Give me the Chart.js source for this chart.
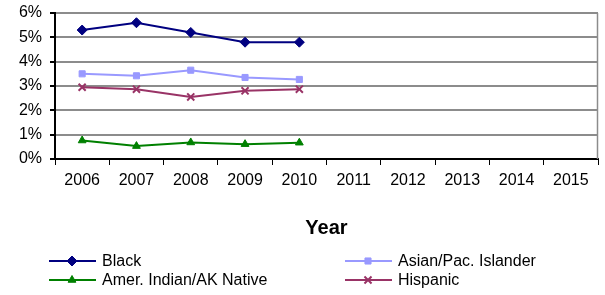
<!DOCTYPE html>
<html>
<head>
<meta charset="utf-8">
<script src="https://cdn.jsdelivr.net/npm/chart.js@4/dist/chart.umd.min.js"></script>
<style>
  html, body { margin: 0; padding: 0; background: #fff; }
  #wrap { width: 605px; height: 295px; position: relative; }
</style>
</head>
<body>
<div id="wrap"><canvas id="grafico"></canvas></div>
<script>
// datos
const years = ['2006', '2007', '2008', '2009', '2010', '2011', '2012', '2013', '2014', '2015'];
const black = [5.3, 5.6, 5.2, 4.8, 4.8, null, null, null, null, null];
const asianPac = [3.5, 3.42, 3.65, 3.35, 3.27, null, null, null, null, null];
const amerIndian = [0.76, 0.53, 0.68, 0.61, 0.67, null, null, null, null, null];
const hispanic = [2.95, 2.87, 2.55, 2.8, 2.87, null, null, null, null, null];
const yTicks = [0, 1, 2, 3, 4, 5, 6];

const FONT = 'Liberation Sans, Arial, sans-serif';

function serie(label, data, color, style, radius) {
    return {
        label: label,
        data: data,
        borderColor: color,
        backgroundColor: color,
        borderWidth: 2,
        pointStyle: style,
        pointRadius: radius,
        pointHoverRadius: radius,
        pointBorderWidth: style === 'crossRot' ? 2 : 1,
        tension: 0,
        spanGaps: false
    };
}

// leyenda en dos columnas y borde derecho, dibujados a mano
const extras = {
    id: 'extras',
    afterDraw(chart) {
        const ctx = chart.ctx;
        const area = chart.chartArea;
        ctx.save();
        // borde derecho del área
        ctx.strokeStyle = '#8c8c8c';
        ctx.lineWidth = 1.5;
        ctx.beginPath();
        ctx.moveTo(area.right - 0.5, area.top);
        ctx.lineTo(area.right - 0.5, area.bottom);
        ctx.stroke();

        const pos = [
            { x: 49, y: 261 },
            { x: 345, y: 261 },
            { x: 49, y: 280 },
            { x: 345, y: 280 }
        ];
        ctx.font = '16px ' + FONT;
        ctx.textAlign = 'left';
        ctx.textBaseline = 'middle';
        chart.data.datasets.forEach((ds, i) => {
            const p = pos[i];
            ctx.strokeStyle = ds.borderColor;
            ctx.fillStyle = ds.backgroundColor;
            ctx.lineWidth = 2;
            ctx.beginPath();
            ctx.moveTo(p.x, p.y);
            ctx.lineTo(p.x + 47, p.y);
            ctx.stroke();
            ctx.lineWidth = ds.pointBorderWidth;
            Chart.helpers.drawPoint(ctx, {
                pointStyle: ds.pointStyle,
                radius: ds.pointRadius,
                rotation: 0,
                borderWidth: ds.pointBorderWidth
            }, p.x + 23, p.y);
            ctx.fillStyle = '#000';
            ctx.fillText(ds.label, p.x + 53, p.y + 1);
        });
        ctx.restore();
    }
};

new Chart(document.getElementById('grafico').getContext('2d'), {
    type: 'line',
    data: {
        labels: years,
        datasets: [
            serie('Black', black, '#000080', 'rectRot', 5),
            serie('Asian/Pac. Islander', asianPac, '#9999FF', 'rect', 4.3),
            serie('Amer. Indian/AK Native', amerIndian, '#008000', 'triangle', 4.5),
            serie('Hispanic', hispanic, '#993366', 'crossRot', 5)
        ]
    },
    options: {
        responsive: true,
        maintainAspectRatio: false,
        animation: false,
        layout: { padding: { top: 0, right: 1, left: 0, bottom: 0 } },
        plugins: {
            legend: { display: false },
            tooltip: { enabled: false }
        },
        scales: {
            x: {
                type: 'category',
                offset: true,
                afterFit(scale) { scale.height = 136; },
                grid: {
                    offset: true,
                    drawOnChartArea: false,
                    drawTicks: true,
                    tickLength: 6,
                    tickColor: '#000',
                    color: '#000'
                },
                border: { display: true, color: '#000', width: 2 },
                ticks: {
                    color: '#000',
                    font: { family: FONT, size: 16 },
                    padding: 6,
                    maxRotation: 0,
                    autoSkip: false
                },
                title: {
                    display: true,
                    text: 'Year',
                    color: '#000',
                    font: { family: FONT, size: 20, weight: 'bold', lineHeight: 1 },
                    padding: { top: 0, bottom: 57 }
                }
            },
            y: {
                min: 0,
                max: 6,
                afterFit(scale) {
                    scale.width = 55;
                    scale.paddingTop = 13;
                },
                afterBuildTicks(scale) { scale.ticks = yTicks.map(v => ({ value: v })); },
                grid: {
                    color: '#8c8c8c',
                    lineWidth: 2,
                    tickColor: '#000',
                    tickLength: 5
                },
                border: { display: true, color: '#000', width: 2 },
                ticks: {
                    color: '#000',
                    font: { family: FONT, size: 16, lineHeight: 1 },
                    padding: 8,
                    callback: v => v + '%'
                }
            }
        }
    },
    plugins: [extras]
});
</script>
</body>
</html>
